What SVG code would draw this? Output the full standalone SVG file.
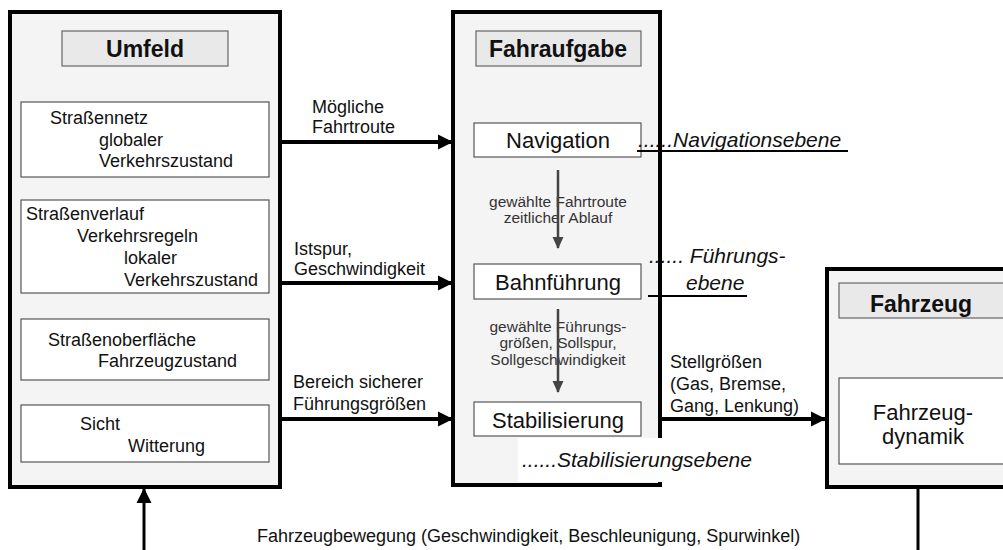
<svg xmlns="http://www.w3.org/2000/svg" width="1003" height="550" viewBox="0 0 1003 550">
  <defs>
    <marker id="arrowBig" markerUnits="userSpaceOnUse" markerWidth="16" markerHeight="16" refX="15" refY="8" orient="auto">
      <path d="M0,0.5 L15,8 L0,15.5 Z" fill="#000"/>
    </marker>
    <marker id="arrowGray" markerUnits="userSpaceOnUse" markerWidth="12" markerHeight="14" refX="11" refY="6" orient="auto">
      <path d="M0,0.5 L12,6 L0,11.5 Z" fill="#444"/>
    </marker>
    <style>
      text { font-family: "Liberation Sans", Arial, sans-serif; fill: #111; }
      .frame { fill: #f4f4f4; stroke: #000; stroke-width: 4; }
      .head { fill: #e9e9e9; stroke: #666; stroke-width: 1.2; }
      .sub { fill: #fff; stroke: #555; stroke-width: 1.2; }
      .hd { font-size: 23px; font-weight: bold; text-anchor: middle; }
      .lbl { font-size: 18px; }
      .big { font-size: 22px; text-anchor: middle; }
      .small { font-size: 15.5px; fill: #333; text-anchor: middle; }
      .lvl { font-size: 21px; font-style: italic; }
      .conn { stroke: #000; stroke-width: 4; fill: none; }
      .inner { stroke: #444; stroke-width: 2.5; fill: none; }
      .uline { stroke: #000; stroke-width: 2; }
    </style>
  </defs>

  <rect width="1003" height="550" fill="#fff"/>

  <!-- Umfeld -->
  <g id="umfeld">
    <rect class="frame" x="10" y="12" width="270" height="475"/>
    <rect class="head" x="62" y="31" width="166" height="35"/>
    <text class="hd" x="145" y="57">Umfeld</text>
    <rect class="sub" x="21" y="102" width="248" height="75"/>
    <text class="lbl" x="50" y="124">Straßennetz</text>
    <text class="lbl" x="99" y="146">globaler</text>
    <text class="lbl" x="99" y="167">Verkehrszustand</text>
    <rect class="sub" x="21" y="200" width="248" height="93"/>
    <text class="lbl" x="26" y="220">Straßenverlauf</text>
    <text class="lbl" x="77" y="242">Verkehrsregeln</text>
    <text class="lbl" x="124" y="264">lokaler</text>
    <text class="lbl" x="124" y="286">Verkehrszustand</text>
    <rect class="sub" x="21" y="319" width="248" height="61"/>
    <text class="lbl" x="48" y="346">Straßenoberfläche</text>
    <text class="lbl" x="98" y="367">Fahrzeugzustand</text>
    <rect class="sub" x="21" y="405" width="248" height="57"/>
    <text class="lbl" x="80" y="430">Sicht</text>
    <text class="lbl" x="128" y="452">Witterung</text>
  </g>

  <!-- Fahraufgabe -->
  <g id="fahraufgabe">
    <rect class="frame" x="453" y="12" width="207" height="473"/>
    <rect class="head" x="476" y="31" width="165" height="35"/>
    <text class="hd" x="558" y="57">Fahraufgabe</text>
    <rect class="sub" x="474" y="123" width="167" height="34"/>
    <text class="big" x="558" y="148">Navigation</text>
    <rect class="sub" x="474" y="264" width="167" height="35"/>
    <text class="big" x="558" y="290">Bahnführung</text>
    <rect class="sub" x="474" y="402" width="167" height="34"/>
    <text class="big" x="558" y="428">Stabilisierung</text>
    <text class="small" x="558" y="207">gewählte Fahrtroute</text>
    <text class="small" x="558" y="223">zeitlicher Ablauf</text>
    <text class="small" x="558" y="332">gewählte Führungs-</text>
    <text class="small" x="558" y="348">größen, Sollspur,</text>
    <text class="small" x="558" y="365">Sollgeschwindigkeit</text>
  </g>

  <!-- Fahrzeug -->
  <g id="fahrzeug">
    <rect class="frame" x="827" y="269" width="190" height="218"/>
    <rect class="head" x="839" y="283" width="180" height="35"/>
    <text class="hd" x="921" y="312">Fahrzeug</text>
    <rect class="sub" x="839" y="378" width="180" height="86"/>
    <text class="big" x="923" y="420" font-size="21">Fahrzeug-</text>
    <text class="big" x="923" y="444" font-size="21">dynamik</text>
  </g>

  <!-- connectors -->
  <g id="connectors">
    <line class="conn" x1="280" y1="142" x2="453" y2="142" marker-end="url(#arrowBig)"/>
    <line class="conn" x1="280" y1="283" x2="453" y2="283" marker-end="url(#arrowBig)"/>
    <line class="conn" x1="280" y1="419" x2="453" y2="419" marker-end="url(#arrowBig)"/>
    <line class="conn" x1="660" y1="419" x2="826" y2="419" marker-end="url(#arrowBig)"/>
    <line class="inner" x1="558" y1="170" x2="558" y2="248" marker-end="url(#arrowGray)"/>
    <line class="inner" x1="558" y1="309" x2="558" y2="392" marker-end="url(#arrowGray)"/>
    <line x1="918" y1="487" x2="918" y2="550" stroke="#000" stroke-width="3"/>
    <line x1="144" y1="550" x2="144" y2="488" stroke="#000" stroke-width="3" marker-end="url(#arrowBig)"/>
  </g>

  <!-- connector labels -->
  <g id="labels">
    <text class="lbl" x="312" y="113">Mögliche</text>
    <text class="lbl" x="312" y="133">Fahrtroute</text>
    <text class="lbl" x="294" y="255">Istspur,</text>
    <text class="lbl" x="294" y="275">Geschwindigkeit</text>
    <text class="lbl" x="293" y="388">Bereich sicherer</text>
    <text class="lbl" x="293" y="410">Führungsgrößen</text>
    <text class="lbl" x="670" y="368">Stellgrößen</text>
    <text class="lbl" x="670" y="390">(Gas, Bremse,</text>
    <text class="lbl" x="670" y="412">Gang, Lenkung)</text>
    <text class="lbl" x="257" y="542" font-size="18.5">Fahrzeugbewegung (Geschwindigkeit, Beschleunigung, Spurwinkel)</text>
  </g>

  <!-- level annotations -->
  <g id="ebenen">
    <line class="uline" x1="637" y1="151" x2="848" y2="151"/>
    <text class="lvl" x="638" y="147">......Navigationsebene</text>
    <text class="lvl" x="649" y="263">...... Führungs-</text>
    <text class="lvl" x="686" y="290">ebene</text>
    <line class="uline" x1="648" y1="296" x2="747" y2="296"/>
    <rect x="518" y="438" width="248" height="44" fill="#fff"/>
    <text class="lvl" x="522" y="467">......Stabilisierungsebene</text>
  </g>
</svg>
